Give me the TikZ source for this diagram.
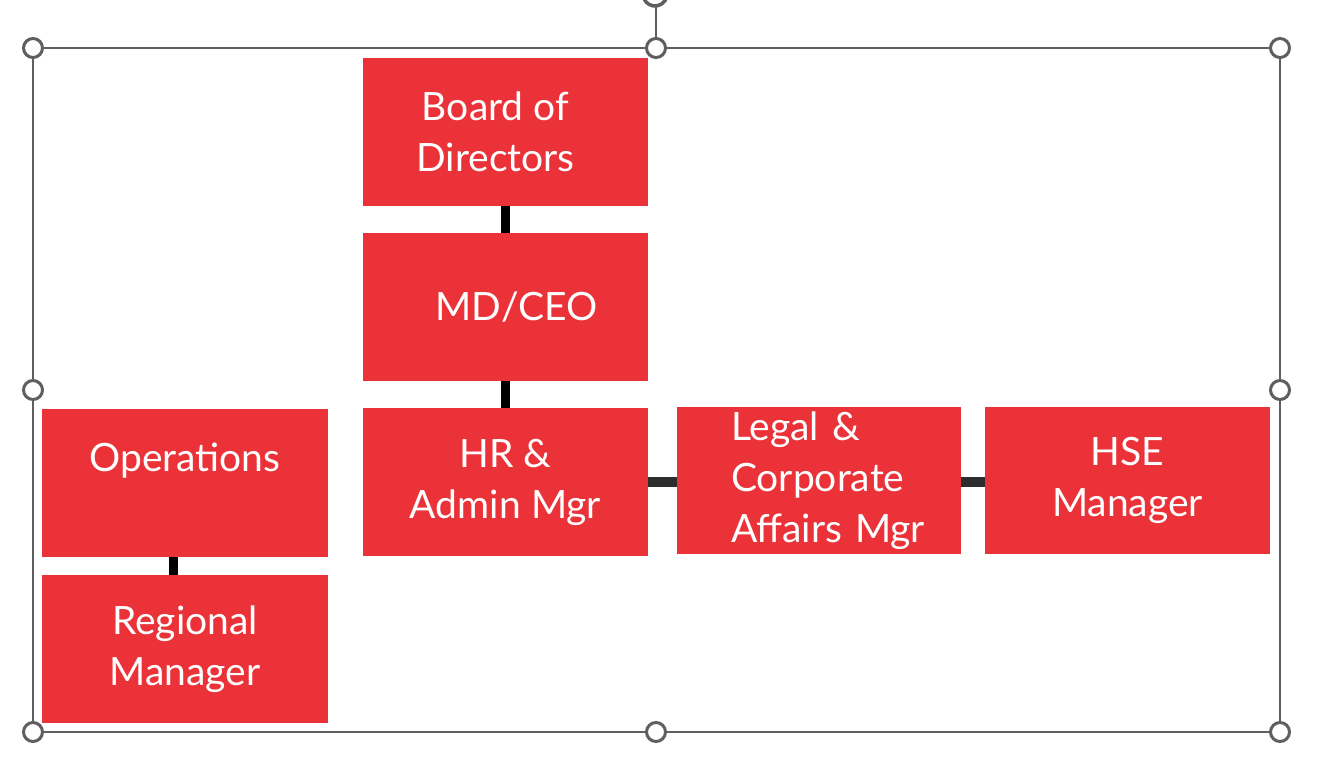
\documentclass[tikz,border=0pt]{standalone}
\usepackage{fontspec}
\setmainfont{Lato}
\definecolor{boxred}{RGB}{234,50,56}
\definecolor{framegray}{RGB}{95,95,95}
\definecolor{linkdark}{RGB}{45,45,45}
\begin{document}
\begin{tikzpicture}[x=1pt,y=-1pt,
  orgbox/.style={fill=boxred, draw=none, text=white, align=center, inner sep=0pt,
    font=\fontsize{39}{51}\selectfont},
  vlink/.style={draw=black, line width=9pt},
  hlink/.style={draw=linkdark, line width=10pt},
  handle/.style={circle, draw=framegray, fill=white, line width=3pt, minimum size=19pt, inner sep=0pt},
  frameline/.style={draw=framegray, line width=2pt}]
\useasboundingbox (0,0) rectangle (1322,765);
\clip (0,0) rectangle (1322,765);
% selection frame
\draw[frameline] (33,48) rectangle (1280,732);
\coordinate (rottop) at (656,7);
\draw[frameline] (656,48) -- (rottop);
\draw[framegray, line width=3.5pt] (655,-6) ++(10:12) arc[start angle=10, end angle=175, radius=12];
% boxes
\node[orgbox, minimum width=285pt, minimum height=148pt] (board) at (505.5,132) {\hspace*{-20pt}Board of\\\hspace*{-20pt}Directors};
\node[orgbox, minimum width=285pt, minimum height=148pt] (ceo) at (505.5,307) {\hspace*{22pt}MD/CEO};
\node[orgbox, minimum width=285pt, minimum height=148pt] (hr) at (505.5,482) {HR \&\\Admin Mgr};
\node[orgbox, minimum width=284pt, minimum height=147pt, text width=284pt, align=left] (legal) at (819,480.5) {\hspace*{54pt}Legal \&\\\hspace*{54pt}Corporate\\\hspace*{54pt}Affairs Mgr};
\node[orgbox, minimum width=285pt, minimum height=147pt] (hse) at (1127.5,480.5) {HSE\\Manager};
\node[orgbox, minimum width=286pt, minimum height=148pt] (ops) at (185,483) {Operations\\[0pt]~};
\node[orgbox, minimum width=286pt, minimum height=148pt] (reg) at (185,649) {Regional\\Manager};
% connectors
\draw[vlink] (board.south) -- (ceo.north);
\draw[vlink] (ceo.south) -- (hr.north);
\draw[vlink] ([xshift=-12pt]ops.south) -- ([xshift=-12pt]reg.north);
\draw[hlink] (hr.east |- 0,482) -- (legal.west |- 0,482);
\draw[hlink] (legal.east |- 0,482) -- (hse.west |- 0,482);
% handles
\node[handle] (h1) at (33,48) {};
\node[handle] (h2) at (656,48) {};
\node[handle] (h3) at (1280,48) {};
\node[handle] (h4) at (33,390) {};
\node[handle] (h5) at (1280,390) {};
\node[handle] (h6) at (33,732) {};
\node[handle] (h7) at (656,732) {};
\node[handle] (h8) at (1280,732) {};
\end{tikzpicture}
\end{document}
